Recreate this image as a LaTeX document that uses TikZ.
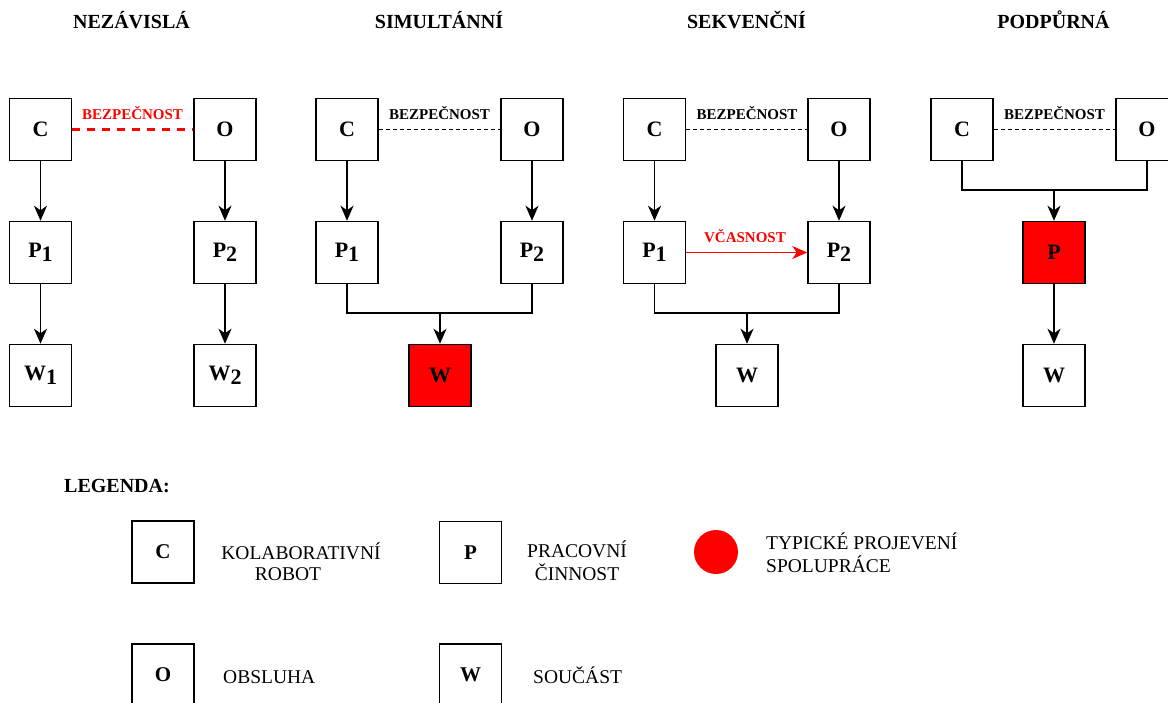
\documentclass[tikz,border=0pt]{standalone}
\usepackage{fontspec}
\setmainfont{Liberation Serif}
\usetikzlibrary{arrows.meta}
\newcommand{\lowsub}[1]{\raisebox{-4.5pt}{#1}}
\tikzset{
 box/.style={draw, line width=1.5pt, minimum width=62pt, minimum height=62pt, inner sep=0pt, fill=white, font=\fontsize{22}{22}\selectfont\bfseries},
 redbox/.style={box, fill=red},
 lbox/.style={box, font=\fontsize{21}{21}\selectfont\bfseries},
 conn/.style={line width=1.6pt},
 tip/.style={-{Stealth[length=15pt,width=13pt,inset=4.5pt]}},
 arr/.style={conn, tip},
 safety/.style={line width=1.3pt, dash pattern=on 4pt off 3pt},
 redsafety/.style={red, line width=3pt, dash pattern=on 8pt off 7pt},
 title/.style={font=\fontsize{20}{20}\selectfont\bfseries, anchor=base, inner sep=0pt},
 lab/.style={font=\fontsize{15}{15}\selectfont\bfseries, anchor=base, inner sep=0pt},
 legtext/.style={font=\fontsize{19.5}{23}\selectfont, anchor=base, inner sep=0pt},
}
\begin{document}
\begin{tikzpicture}[x=1pt,y=-1pt]
\clip (0,0) rectangle (1168,702);
\fill[white] (0,0) rectangle (1168,702);

% titles
\node[title] (t1) at (131.5,28) {NEZÁVISLÁ};
\node[title] (t2) at (439,28) {SIMULTÁNNÍ};
\node[title] (t3) at (746.5,28) {SEKVENČNÍ};
\node[title] (t4) at (1053.5,28) {PODPŮRNÁ};

% panel 1
\node[box] (c1) at (40.5,129.5) {C};
\node[box] (o1) at (225,129.5) {O};
\node[box] (p11) at (40.5,252.5) {P\lowsub{1}};
\node[box] (p12) at (225,252.5) {P\lowsub{2}};
\node[box] (w11) at (40.5,375.5) {W\lowsub{1}};
\node[box] (w12) at (225,375.5) {W\lowsub{2}};
\draw[redsafety] (c1.east) -- (o1.west);
\node[lab, text=red] (b1) at (132.5,119.5) {BEZPEČNOST};
\draw[arr] (c1) -- (p11);
\draw[arr] (p11) -- (w11);
\draw[arr] (o1) -- (p12);
\draw[arr] (p12) -- (w12);

% panel 2
\node[box] (c2) at (347,129.5) {C};
\node[box] (o2) at (532,129.5) {O};
\node[box] (p21) at (347,252.5) {P\lowsub{1}};
\node[box] (p22) at (532,252.5) {P\lowsub{2}};
\node[redbox] (w2) at (440,375.5) {W};
\draw[safety] (c2.east) -- (o2.west);
\node[lab] (b2) at (439.5,119.5) {BEZPEČNOST};
\draw[arr] (c2) -- (p21);
\draw[arr] (o2) -- (p22);
\coordinate (j2) at (440,313);
\draw[conn] (p21.south) |- (j2) -| (p22.south);
\draw[arr] (j2) -- (w2.north);

% panel 3
\node[box] (c3) at (654.5,129.5) {C};
\node[box] (o3) at (839,129.5) {O};
\node[box] (p31) at (654.5,252.5) {P\lowsub{1}};
\node[box] (p32) at (839,252.5) {P\lowsub{2}};
\node[box] (w3) at (747,375.5) {W};
\draw[safety] (c3.east) -- (o3.west);
\node[lab] (b3) at (747,119.5) {BEZPEČNOST};
\draw[arr] (c3) -- (p31);
\draw[arr] (o3) -- (p32);
\draw[red, line width=1.4pt, tip] (p31) -- (p32);
\node[lab, text=red] (v3) at (745,242.5) {VČASNOST};
\coordinate (j3) at (747,313);
\draw[conn] (p31.south) |- (j3) -| (p32.south);
\draw[arr] (j3) -- (w3.north);

% panel 4
\node[box] (c4) at (962,129.5) {C};
\node[box] (o4) at (1147,129.5) {O};
\node[redbox] (p4) at (1054,252.5) {P};
\node[box] (w4) at (1054,375.5) {W};
\draw[safety] (c4.east) -- (o4.west);
\node[lab] (b4) at (1054.5,119.5) {BEZPEČNOST};
\coordinate (j4) at (1054,190);
\draw[conn] (c4.south) |- (j4) -| (o4.south);
\draw[arr] (j4) -- (p4.north);
\draw[arr] (p4) -- (w4);

% legend
\node[font=\fontsize{20}{20}\selectfont\bfseries, anchor=base west, inner sep=0pt] (leg) at (64,492) {LEGENDA:};
\node[lbox] (lc) at (163,552) {C};
\node[legtext] (lct1) at (301,559) {KOLABORATIVNÍ};
\node[legtext] (lct2) at (288,580) {ROBOT};
\node[lbox] (lp) at (470.5,552.5) {P};
\node[legtext] (lpt1) at (577,557) {PRACOVNÍ};
\node[legtext] (lpt2) at (577,580) {ČINNOST};
\node[circle, fill=red, minimum size=44pt, inner sep=0pt] (lr) at (716,552) {};
\node[legtext, anchor=base west] (lrt1) at (766,549) {TYPICKÉ PROJEVENÍ};
\node[legtext, anchor=base west] (lrt2) at (766,572) {SPOLUPRÁCE};
\node[lbox] (lo) at (163,675) {O};
\node[legtext, anchor=base west] (lot) at (223,683) {OBSLUHA};
\node[lbox] (lw) at (470.5,675) {W};
\node[legtext, anchor=base west] (lwt) at (533,683) {SOUČÁST};
\end{tikzpicture}
\end{document}
